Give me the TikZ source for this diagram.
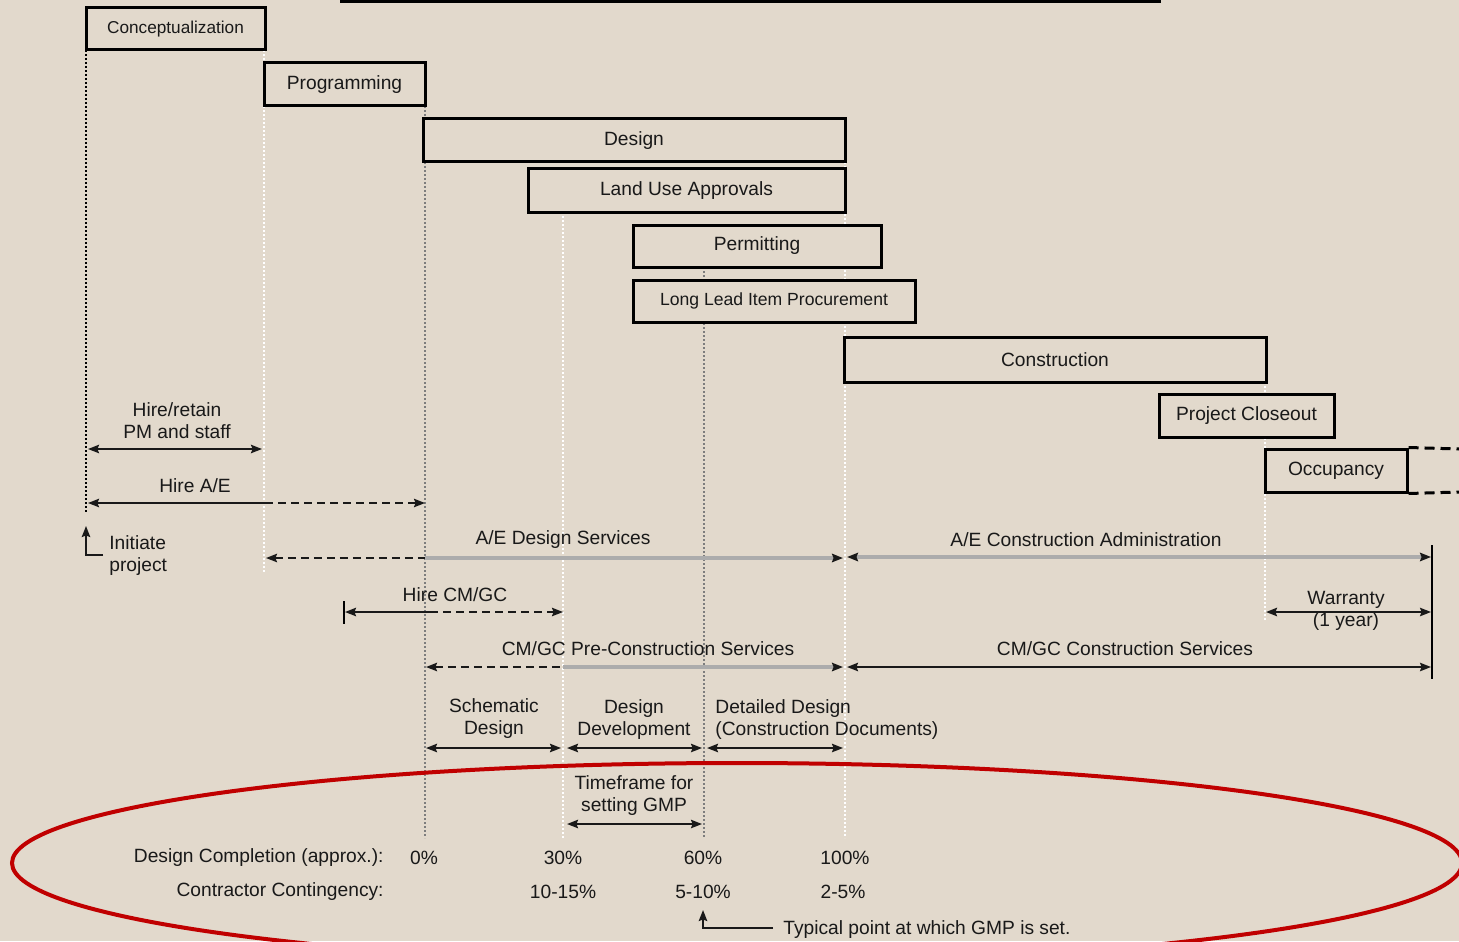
\documentclass[tikz,border=0pt]{standalone}
\usepackage{fontspec}
\setmainfont{Liberation Sans}
\usetikzlibrary{arrows.meta}
\definecolor{bg}{RGB}{226,217,204}
\definecolor{ink}{RGB}{25,25,25}
\definecolor{gline}{RGB}{172,172,172}
\definecolor{guideg}{RGB}{125,125,125}
\definecolor{ellred}{RGB}{192,0,0}
\begin{document}
\begin{tikzpicture}[x=0.5pt,y=-0.5pt,
  font=\fontsize{9.6}{11}\selectfont,
  >={Stealth[length=5.5pt,width=4.2pt,inset=0.8pt]},
  phase/.style={draw=black, line width=1.5pt, fill=bg, inner sep=0pt, text=ink},
  lbl/.style={inner sep=0pt, text=ink, align=center},
  arr/.style={line width=1pt, draw=ink},
  dashseg/.style={dash pattern=on 4pt off 2.5pt},
  grayseg/.style={line width=1.6pt, draw=gline},
  headR/.style={-{Stealth[length=5.5pt,width=4.2pt,inset=0.8pt,color=ink]}},
  headB/.style={{Stealth[length=5.5pt,width=4.2pt,inset=0.8pt,color=ink]}-{Stealth[length=5.5pt,width=4.2pt,inset=0.8pt,color=ink]}},
  guideK/.style={draw=black, line width=0.8pt, dash pattern=on 0.8pt off 1.2pt},
  guideG/.style={draw=guideg, line width=0.8pt, dash pattern=on 0.8pt off 1.2pt},
  guideW/.style={draw=white, line width=0.8pt, dash pattern=on 0.8pt off 1.2pt},
  occdash/.style={draw=black, line width=1.5pt, dash pattern=on 5pt off 3pt}]
\useasboundingbox (0,0) rectangle (1459,941);
\fill[bg] (0,0) rectangle (1459,941);
\clip (0,0) rectangle (1459,941);

% title underline (cut off)
\coordinate (t1) at (340,2);
\coordinate (t2) at (1161,2);
\draw[line width=1.5pt] (t1) -- (t2);

% guide lines
\coordinate (g0a) at (86,50);   \coordinate (g0b) at (86,512);
\coordinate (g1a) at (264,50);  \coordinate (g1b) at (264,572);
\coordinate (g2a) at (425,106); \coordinate (g2b) at (425,838);
\coordinate (g3a) at (563,212); \coordinate (g3b) at (563,838);
\coordinate (g4a) at (704,267); \coordinate (g4b) at (704,838);
\coordinate (g5a) at (845,162); \coordinate (g5b) at (845,838);
\coordinate (g6a) at (1265,382); \coordinate (g6b) at (1265,620);
\draw[guideK] (g0a) -- (g0b);
\draw[guideW] (g1a) -- (g1b);
\draw[guideG] (g2a) -- (g2b);
\draw[guideW] (g3a) -- (g3b);
\draw[guideG] (g4a) -- (g4b);
\draw[guideW] (g5a) -- (g5b);
\draw[guideW] (g6a) -- (g6b);

% phase boxes
\node[phase, minimum width=89.5pt, minimum height=21pt, font=\fontsize{8.6}{11}\selectfont] (concept) at (175.5,29) {Conceptualization};
\node[phase, minimum width=80.5pt, minimum height=21.5pt] (prog) at (344.5,84.5) {Programming};
\node[phase, minimum width=211pt, minimum height=21.5pt] (design) at (634,140.5) {Design};
\node[phase, minimum width=158.5pt, minimum height=21.5pt] (landuse) at (686.5,190.5) {Land Use Approvals};
\node[phase, minimum width=124pt, minimum height=21pt] (permit) at (757,246) {Permitting};
\node[phase, minimum width=141pt, minimum height=21pt, font=\fontsize{8.8}{11}\selectfont] (llip) at (774,301) {Long Lead Item Procurement};
\node[phase, minimum width=211pt, minimum height=22.5pt] (constr) at (1055,359.5) {Construction};
\node[phase, minimum width=87.5pt, minimum height=21.5pt] (closeout) at (1246.5,415.5) {Project Closeout};
\node[phase, minimum width=71pt, minimum height=21.5pt] (occ) at (1336,470.5) {Occupancy};
\coordinate (oe1) at (1459,449);
\coordinate (oe2) at (1459,492);
\draw[occdash] (occ.north east) -- (oe1);
\draw[occdash] (occ.south east) -- (oe2);

% labels
\node[lbl] (lhp) at (177,421) {Hire/retain\\PM and staff};
\node[lbl] (lha) at (195,486) {Hire A/E};
\node[lbl, anchor=west, align=left] (lip) at (109,555.5) {Initiate\\project};
\node[lbl] (lads) at (563,540) {A/E Design Services};
\node[lbl] (laca) at (1086,540) {A/E Construction Administration};
\node[lbl] (lhc) at (455,595) {Hire CM/GC};
\node[lbl] (lw) at (1346,611) {Warranty\\(1 year)};
\node[lbl] (lpc) at (648,649) {CM/GC Pre-Construction Services};
\node[lbl] (lcs) at (1125,649) {CM/GC Construction Services};
\node[lbl] (lsd) at (494,719) {Schematic\\Design};
\node[lbl] (ldd) at (634,719.5) {Design\\Development};
\node[lbl, anchor=west, align=left] (lcd) at (715,719.5) {Detailed Design\\(Construction Documents)};
\node[lbl] (ltf) at (634,795.5) {Timeframe for\\setting GMP};
\node[lbl, anchor=east] (ldc) at (384,858) {Design Completion (approx.):};
\node[lbl, anchor=east] (lcc) at (384,892) {Contractor Contingency:};
\node[lbl] (p0) at (424,858) {0\%};
\node[lbl] (p30) at (563,858) {30\%};
\node[lbl] (p60) at (703,858) {60\%};
\node[lbl] (p100) at (845,858) {100\%};
\node[lbl] (c1) at (563,892) {10-15\%};
\node[lbl] (c2) at (703,892) {5-10\%};
\node[lbl] (c3) at (843,892) {2-5\%};
\node[lbl, anchor=west] (lty) at (783,930) {Typical point at which GMP is set.};

% arrows
\coordinate (hp1) at (88,449);  \coordinate (hp2) at (262,449);
\draw[arr,<->] (hp1) -- (hp2);

\coordinate (ha1) at (88,503); \coordinate (ha2) at (265,503); \coordinate (ha3) at (425,503);
\draw[arr,<-] (ha1) -- (ha2);
\draw[arr,dashseg,->] (ha2) -- (ha3);

\coordinate (ip1) at (103,555); \coordinate (ip2) at (86,555); \coordinate (ip3) at (86,526);
\draw[arr,->] (ip1) -- (ip2) -- (ip3);

\coordinate (ad1) at (266,558); \coordinate (ad2) at (425,558); \coordinate (ad3) at (843,558);
\draw[grayseg, headR] (ad2) -- (ad3);
\draw[arr,dashseg,<-] (ad1) -- (ad2);

\coordinate (ac1) at (847,557); \coordinate (ac2) at (1431,557);
\draw[grayseg, headB] (ac1) -- (ac2);

\coordinate (bar1) at (1432,545); \coordinate (bar2) at (1432,679);
\draw[line width=1pt] (bar1) -- (bar2);

\coordinate (hc0a) at (344,601); \coordinate (hc0b) at (344,624);
\draw[line width=1pt] (hc0a) -- (hc0b);
\coordinate (hc1) at (345,612); \coordinate (hc2) at (430,612); \coordinate (hc3) at (563,612);
\draw[arr,<-] (hc1) -- (hc2);
\draw[arr,dashseg,->] (hc2) -- (hc3);

\coordinate (w1) at (1266,612); \coordinate (w2) at (1431,612);
\draw[arr,<->] (w1) -- (w2);

\coordinate (pc1) at (426,667); \coordinate (pc2) at (563,667); \coordinate (pc3) at (843,667);
\draw[grayseg, headR] (pc2) -- (pc3);
\draw[arr,dashseg,<-] (pc1) -- (pc2);

\coordinate (cs1) at (847,667); \coordinate (cs2) at (1431,667);
\draw[arr,<->] (cs1) -- (cs2);

\coordinate (sd1) at (426,748); \coordinate (sd2) at (561,748);
\draw[arr,<->] (sd1) -- (sd2);
\coordinate (dd1) at (567,748); \coordinate (dd2) at (702,748);
\draw[arr,<->] (dd1) -- (dd2);
\coordinate (cd1) at (707,748); \coordinate (cd2) at (843,748);
\draw[arr,<->] (cd1) -- (cd2);
\coordinate (tf1) at (567,824); \coordinate (tf2) at (702,824);
\draw[arr,<->] (tf1) -- (tf2);

\coordinate (ty1) at (773,928); \coordinate (ty2) at (703,928); \coordinate (ty3) at (703,910);
\draw[arr,->] (ty1) -- (ty2) -- (ty3);

% red ellipse
\coordinate (ec) at (737,863);
\draw[ellred, line width=2pt] (ec) ellipse [x radius=725, y radius=100];
\end{tikzpicture}
\end{document}
